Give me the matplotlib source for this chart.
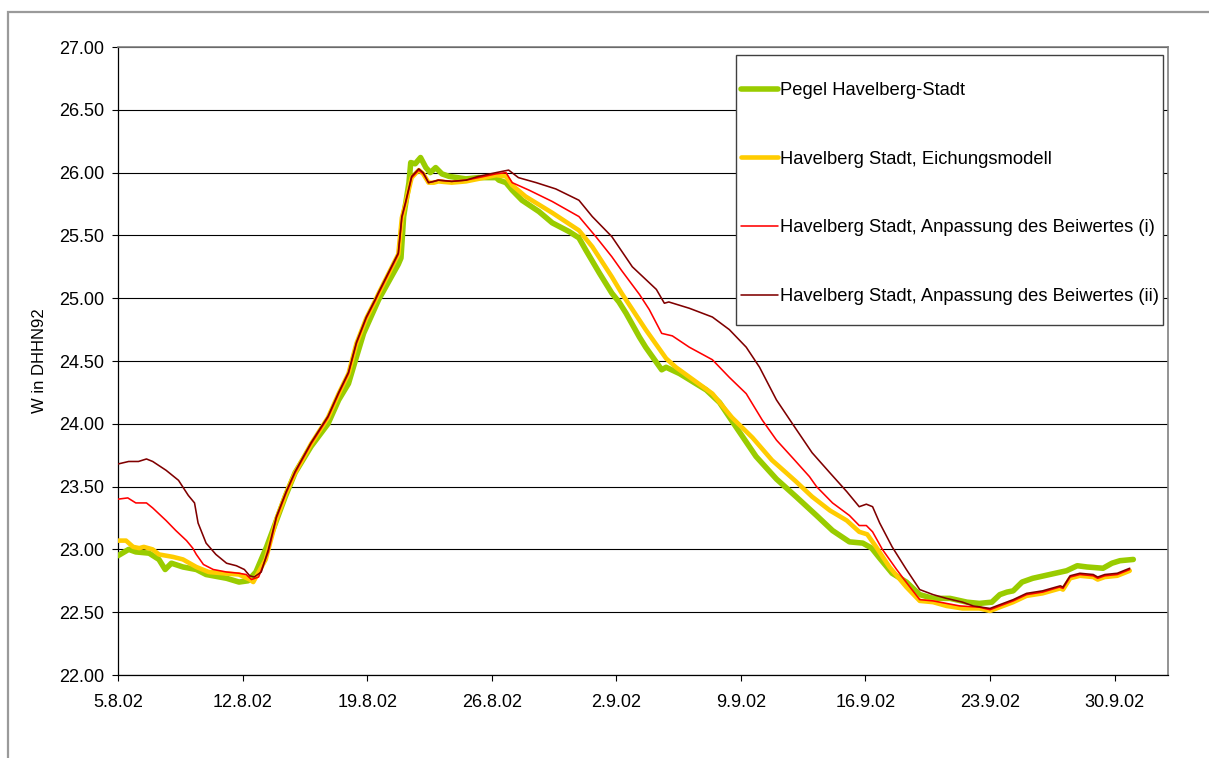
import matplotlib
matplotlib.use("Agg")
import matplotlib.pyplot as plt
from matplotlib.patches import Rectangle
import pandas as pd

# Water level W in DHHN92 at Havelberg-Stadt, Aug/Sep 2002 (days after 5.8.02)
pegel_days = [0, 0.6, 1.0, 1.75, 2.3, 2.65, 3.0, 3.65, 4.4, 4.95, 6.1, 6.8, 7.3, 7.75, 8.35,
              9.4, 9.95, 10.85, 11.8, 12.4, 12.95, 13.35, 13.8, 14.65, 15.75, 15.9, 16.05,
              16.35, 16.45, 16.7, 17.0, 17.3, 17.55, 17.85, 18.2, 18.6, 19.55, 20.25, 21.25,
              21.4, 21.8, 22.15, 22.7, 23.65, 24.4, 25.35, 25.9, 26.3, 27.05, 27.75, 28.15,
              28.55, 29.3, 29.65, 30.55, 30.8, 31.55, 33.05, 33.8, 34.75, 35.85, 37.0, 38.1,
              39.25, 40.15, 41.1, 41.85, 42.35, 42.8, 43.5, 44.3, 45.05, 45.8, 46.75, 47.7,
              48.4, 49.1, 49.55, 49.95, 50.3, 50.8, 51.4, 52.35, 53.3, 53.9, 54.45, 55.35,
              55.85, 56.3, 57.05]
pegel_w = [22.95, 23.00, 22.98, 22.97, 22.92, 22.84, 22.89, 22.86, 22.84, 22.80, 22.77, 22.74,
           22.75, 22.82, 23.02, 23.42, 23.61, 23.82, 24.00, 24.19, 24.32, 24.51, 24.72, 24.99,
           25.27, 25.32, 25.65, 25.92, 26.08, 26.07, 26.12, 26.04, 26.00, 26.04, 25.99, 25.97,
           25.95, 25.96, 25.96, 25.94, 25.92, 25.86, 25.78, 25.69, 25.60, 25.53, 25.48, 25.38,
           25.20, 25.04, 24.97, 24.88, 24.69, 24.61, 24.43, 24.45, 24.40, 24.27, 24.17, 23.97,
           23.74, 23.56, 23.42, 23.27, 23.15, 23.06, 23.05, 23.01, 22.93, 22.81, 22.74, 22.64,
           22.61, 22.61, 22.58, 22.57, 22.58, 22.64, 22.66, 22.67, 22.74, 22.77, 22.80, 22.83,
           22.87, 22.86, 22.85, 22.89, 22.91, 22.92]

eichung_days = [0, 0.45, 0.85, 1.2, 1.45, 1.95, 2.3, 3.1, 3.65, 4.4, 5.1, 5.9, 6.8, 7.4, 7.6,
                8.3, 8.9, 9.45, 9.95, 10.85, 11.8, 12.4, 12.95, 13.4, 13.95, 14.45, 14.65,
                15.75, 15.95, 16.15, 16.5, 16.9, 17.15, 17.45, 17.75, 18.0, 18.75, 19.55, 20.25,
                21.25, 21.8, 22.15, 22.9, 24.4, 25.9, 26.65, 27.75, 28.3, 29.65, 30.8, 31.35,
                33.4, 34.5, 35.65, 36.75, 37.15, 38.1, 39.0, 40.0, 40.95, 41.65, 42.1, 42.6,
                43.35, 44.3, 45.05, 45.8, 46.55, 47.45, 48.4, 49.0, 49.55, 50.3, 51.05, 51.95,
                52.95, 53.1, 53.5, 54.05, 54.8, 55.05, 55.45, 56.15, 56.85]
eichung_w = [23.07, 23.07, 23.02, 23.01, 23.02, 23.00, 22.96, 22.94, 22.92, 22.86, 22.82, 22.81,
             22.80, 22.76, 22.74, 22.92, 23.24, 23.45, 23.61, 23.84, 24.05, 24.24, 24.40, 24.64,
             24.84, 24.98, 25.04, 25.35, 25.64, 25.75, 25.96, 26.02, 25.99, 25.92, 25.92, 25.93,
             25.92, 25.93, 25.95, 25.98, 25.97, 25.90, 25.81, 25.68, 25.54, 25.41, 25.17, 25.04,
             24.75, 24.52, 24.45, 24.24, 24.05, 23.89, 23.71, 23.66, 23.54, 23.42, 23.31, 23.23,
             23.14, 23.12, 23.02, 22.86, 22.70, 22.59, 22.58, 22.55, 22.53, 22.53, 22.51, 22.54,
             22.58, 22.63, 22.65, 22.69, 22.68, 22.77, 22.79, 22.78, 22.76, 22.78, 22.79, 22.83]

beiwert1_days = [0, 0.55, 1.0, 1.6, 1.95, 2.7, 3.25, 3.85, 4.2, 4.4, 4.8, 5.35, 6.1, 6.8, 7.2,
                 7.5, 7.9, 8.45, 8.9, 9.45, 9.95, 10.85, 11.8, 12.4, 12.95, 13.4, 13.95, 14.45,
                 14.65, 15.75, 15.95, 16.15, 16.5, 16.9, 17.15, 17.45, 17.75, 18.0, 18.75, 19.55,
                 20.25, 21.25, 21.8, 22.15, 23.1, 24.4, 25.9, 26.85, 27.75, 28.3, 29.3, 29.85,
                 30.55, 31.15, 32.1, 33.4, 34.35, 35.3, 36.2, 37.0, 37.9, 38.85, 39.25, 40.15,
                 41.1, 41.65, 42.05, 42.4, 42.95, 43.75, 44.5, 45.05, 45.8, 46.55, 47.3, 48.4,
                 49.0, 49.55, 50.3, 51.05, 51.95, 52.9, 53.1, 53.5, 54.05, 54.8, 55.05, 55.45,
                 56.15, 56.85]
beiwert1_w = [23.40, 23.41, 23.37, 23.37, 23.33, 23.23, 23.15, 23.07, 23.01, 22.96, 22.88, 22.84,
              22.82, 22.81, 22.80, 22.76, 22.78, 22.98, 23.25, 23.45, 23.61, 23.84, 24.05, 24.24,
              24.40, 24.64, 24.84, 24.98, 25.04, 25.35, 25.64, 25.75, 25.96, 26.02, 25.99, 25.92,
              25.93, 25.94, 25.93, 25.94, 25.96, 25.99, 26.00, 25.92, 25.86, 25.77, 25.65, 25.49,
              25.33, 25.22, 25.03, 24.91, 24.72, 24.70, 24.61, 24.51, 24.37, 24.24, 24.03, 23.87,
              23.73, 23.58, 23.50, 23.37, 23.27, 23.19, 23.19, 23.14, 23.00, 22.84, 22.70, 22.60,
              22.59, 22.57, 22.55, 22.54, 22.52, 22.55, 22.59, 22.64, 22.66, 22.70, 22.69, 22.78,
              22.80, 22.79, 22.77, 22.79, 22.80, 22.84]

beiwert2_days = [0, 0.6, 1.15, 1.6, 1.95, 2.7, 3.4, 3.95, 4.3, 4.5, 4.95, 5.5, 6.1, 6.65, 7.1,
                 7.4, 7.65, 8.05, 8.45, 8.9, 9.45, 9.95, 10.85, 11.8, 12.4, 12.95, 13.4, 13.95,
                 14.45, 14.65, 15.75, 15.95, 16.15, 16.5, 16.9, 17.15, 17.45, 17.75, 18.0, 18.75,
                 19.55, 20.25, 21.25, 21.95, 22.5, 23.5, 24.6, 25.9, 26.65, 27.75, 28.9, 29.65,
                 30.25, 30.7, 30.95, 32.1, 33.4, 34.35, 35.3, 36.05, 37.0, 37.9, 39.0, 40.0,
                 40.95, 41.65, 42.05, 42.4, 42.8, 43.5, 44.3, 45.05, 45.8, 46.55, 47.45, 48.05,
                 49.0, 49.55, 50.3, 51.05, 51.95, 52.95, 53.1, 53.5, 54.05, 54.8, 55.05, 55.45,
                 56.15, 56.85]
beiwert2_w = [23.68, 23.70, 23.70, 23.72, 23.70, 23.63, 23.55, 23.43, 23.37, 23.21, 23.05, 22.96,
              22.89, 22.87, 22.84, 22.79, 22.78, 22.82, 23.00, 23.26, 23.46, 23.62, 23.85, 24.06,
              24.25, 24.41, 24.65, 24.85, 24.99, 25.05, 25.36, 25.65, 25.76, 25.97, 26.03, 26.00,
              25.92, 25.93, 25.94, 25.93, 25.94, 25.97, 26.00, 26.02, 25.96, 25.92, 25.87, 25.78,
              25.65, 25.49, 25.25, 25.15, 25.07, 24.96, 24.97, 24.92, 24.85, 24.75, 24.61, 24.45,
              24.19, 24.00, 23.77, 23.61, 23.46, 23.34, 23.36, 23.34, 23.21, 23.02, 22.84, 22.68,
              22.64, 22.61, 22.58, 22.55, 22.53, 22.56, 22.60, 22.65, 22.67, 22.71, 22.70, 22.79,
              22.81, 22.80, 22.78, 22.80, 22.81, 22.85]

series_labels = ["Pegel Havelberg-Stadt",
                 "Havelberg Stadt, Eichungsmodell",
                 "Havelberg Stadt, Anpassung des Beiwertes (i)",
                 "Havelberg Stadt, Anpassung des Beiwertes (ii)"]
tick_labels = ["5.8.02", "12.8.02", "19.8.02", "26.8.02", "2.9.02",
               "9.9.02", "16.9.02", "23.9.02", "30.9.02"]
y_ticks = [22.0, 22.5, 23.0, 23.5, 24.0, 24.5, 25.0, 25.5, 26.0, 26.5, 27.0]
y_label = "W in DHHN92"

start = pd.Timestamp("2002-08-05")


def to_time(days):
    return start + pd.to_timedelta(days, unit="D")


plt.rcParams["font.family"] = ["Liberation Sans", "DejaVu Sans"]

W, H = 1209, 758
fig = plt.figure(figsize=(W / 100, H / 100), dpi=100)
fig.patch.set_facecolor("white")

# outer chart-area frame (top and left edge visible)
fig.add_artist(Rectangle((8 / W, -0.2), 1.5, 1.2 - 12 / H, transform=fig.transFigure,
                         facecolor="none", edgecolor="#9a9a9a", linewidth=1.6))

left, right, top, bottom = 118, 1168, 47, 675
ax = fig.add_axes([left / W, 1 - bottom / H, (right - left) / W, (bottom - top) / H])

styles = [
    dict(color="#99CC00", lw=4.0),
    dict(color="#FFCC00", lw=3.3),
    dict(color="#FF0000", lw=1.15),
    dict(color="#800000", lw=1.15),
]
data = [(pegel_days, pegel_w), (eichung_days, eichung_w),
        (beiwert1_days, beiwert1_w), (beiwert2_days, beiwert2_w)]
handles = []
for (d, w), st, lab in zip(data, styles, series_labels):
    h, = ax.plot(to_time(d), w, color=st["color"], lw=st["lw"], label=lab,
                 solid_joinstyle="round", solid_capstyle="round", zorder=3)
    handles.append(h)

ax.set_ylim(22.0, 27.0)
ax.set_yticks(y_ticks)
ax.set_yticklabels([f"{v:.2f}" for v in y_ticks])
ax.set_xlim(start, to_time(59))
ax.set_xticks(to_time([7 * i for i in range(len(tick_labels))]))
ax.set_xticklabels(tick_labels)

ax.grid(axis="y", color="#000000", linewidth=0.8, zorder=1)
ax.set_axisbelow(True)
for s in ["top", "right"]:
    ax.spines[s].set_color("#808080")
    ax.spines[s].set_linewidth(1.2)
for s in ["left", "bottom"]:
    ax.spines[s].set_color("#000000")
    ax.spines[s].set_linewidth(0.9)

ax.tick_params(axis="both", direction="out", length=4, width=0.8, labelsize=13,
               colors="#000000")
ax.tick_params(axis="x", pad=10)
ax.tick_params(axis="y", pad=6)

ax.set_ylabel(y_label, fontsize=12)
ax.yaxis.set_label_coords(-(left - 47) / (right - left), 0.5)

# legend box
lx0, ly0, lx1, ly1 = 736, 55, 1163, 325
box = Rectangle((lx0 / W, 1 - ly1 / H), (lx1 - lx0) / W, (ly1 - ly0) / H,
                transform=fig.transFigure, facecolor="white", edgecolor="#404040",
                linewidth=1.0, zorder=4)
ax.add_artist(box)
box.set_clip_on(False)

leg = ax.legend(handles=handles, loc="upper left",
                bbox_to_anchor=(741 / W, 1 - 82 / H), bbox_transform=fig.transFigure,
                frameon=False, fontsize=13.2, handlelength=2.0, handletextpad=0.15,
                labelspacing=2.82, borderpad=0.0, borderaxespad=0.0)
leg.set_zorder(5)

fig.savefig("out.png", dpi=100, facecolor="white")
